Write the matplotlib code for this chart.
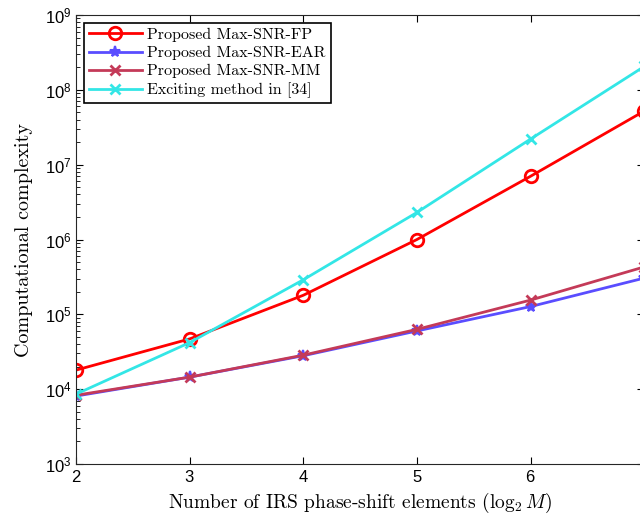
import numpy as np
import matplotlib.pyplot as plt
from matplotlib.ticker import LogLocator, NullFormatter

plt.rcParams['mathtext.fontset'] = 'cm'
plt.rcParams['axes.formatter.use_mathtext'] = True

x = [2, 3, 4, 5, 6, 7]
fp = [1.8e4, 4.7e4, 1.8e5, 1.0e6, 7.0e6, 5.2e7]
ear = [8.1e3, 1.45e4, 2.8e4, 6.0e4, 1.27e5, 3.05e5]
mm = [8.3e3, 1.45e4, 2.85e4, 6.3e4, 1.55e5, 4.3e5]
exist = [8.6e3, 4.2e4, 2.9e5, 2.3e6, 2.2e7, 2.05e8]

labels = ['Proposed Max-SNR-FP', 'Proposed Max-SNR-EAR',
          'Proposed Max-SNR-MM', 'Exciting method in [34]']

fig = plt.figure(figsize=(6.4, 5.17), dpi=100)
ax = fig.add_axes([0.119, 0.1025, 0.8875, 0.8685])

ax.plot(x, fp, color='#ff0000', lw=2, marker='o', ms=9, mfc='none', mew=2, label=labels[0])
ax.plot(x, ear, color='#5a4dff', lw=2, marker='*', ms=8, mew=1.5, label=labels[1])
ax.plot(x, mm, color='#c43a58', lw=2, marker='x', ms=7, mew=2, label=labels[2])
ax.plot(x, exist, color='#33e6e6', lw=2, marker='x', ms=7, mew=2, label=labels[3])

ax.set_yscale('log')
ax.set_xlim(2, 7)
ax.set_ylim(1e3, 1e9)
ax.set_xticks(x)
ax.yaxis.set_major_locator(LogLocator(base=10, numticks=10))
ax.yaxis.set_minor_locator(LogLocator(base=10, subs=np.arange(2, 10), numticks=20))
ax.yaxis.set_minor_formatter(NullFormatter())
ax.tick_params(which='both', direction='in', top=True, right=True, labelsize=12)
ax.tick_params(which='major', length=5)
ax.tick_params(which='minor', length=3)
for t in ax.get_xticklabels() + ax.get_yticklabels():
    t.set_family('Liberation Sans')
for s in ax.spines.values():
    s.set_color('#262626')

ax.set_xlabel(r'Number of IRS phase-shift elements $(\log_2 M)$',
              family='cmr10', fontsize=14, labelpad=4)
ax.set_ylabel('Computational complexity', family='cmr10', fontsize=14.5, labelpad=8)

leg = ax.legend(loc='upper left', prop={'family': 'cmr10', 'size': 11.5},
                fancybox=False, edgecolor='black', framealpha=1,
                handlelength=3.3, handletextpad=0.35, borderpad=0.3,
                labelspacing=0.25, borderaxespad=0.5)
leg.get_frame().set_linewidth(1.2)

fig.savefig('out.png', dpi=100)
